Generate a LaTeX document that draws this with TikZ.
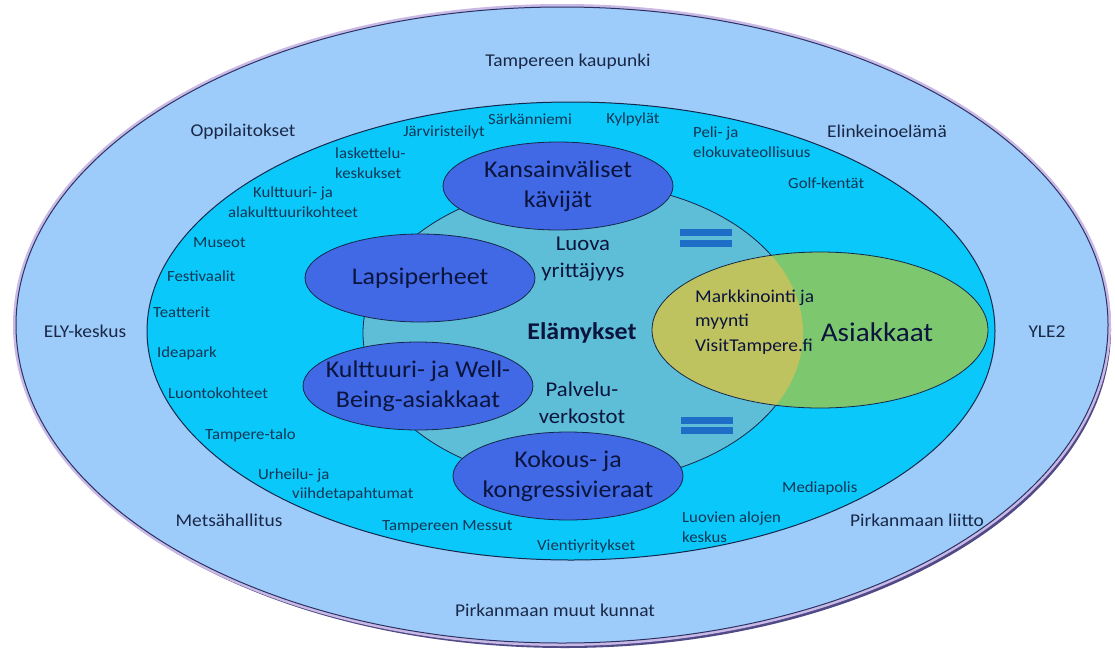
\documentclass[tikz,border=0pt]{standalone}
\usepackage{fontspec}
\setmainfont{Carlito}[FakeStretch=1.08]
\usepackage{tikz}
\definecolor{outerc}{RGB}{158, 204, 250}
\definecolor{midc}{RGB}{10, 200, 250}
\definecolor{corec}{RGB}{95, 190, 215}
\definecolor{bubblec}{RGB}{65, 105, 230}
\definecolor{greenc}{RGB}{125, 200, 110}
\definecolor{overlapc}{RGB}{190, 195, 95}
\definecolor{eqc}{RGB}{30, 110, 200}
\definecolor{edgec}{RGB}{20, 40, 75}
\definecolor{ringedge}{RGB}{45, 50, 100}
\definecolor{glowc}{RGB}{200, 185, 230}
\definecolor{shadowc}{RGB}{80, 75, 135}
\definecolor{textc}{RGB}{25, 40, 70}
\definecolor{spotc}{RGB}{15, 55, 85}
\definecolor{bubtext}{RGB}{10, 20, 60}
\usetikzlibrary{shapes.geometric}
\tikzset{
  ringlbl/.style={text=textc, font=\fontsize{18}{22}\selectfont},
  spotlbl/.style={text=spotc, font=\fontsize{15.5}{19.5}\selectfont, align=left},
  bubble/.style={ellipse, minimum width=230pt, minimum height=88pt, fill=bubblec, draw=edgec, line width=0.8pt},
  bubtxt/.style={text=bubtext, font=\fontsize{24}{30}\selectfont, align=center},
  corelbl/.style={text=bubtext, font=\fontsize{21}{27}\selectfont, align=center},
  marklbl/.style={text=bubtext, font=\fontsize{18}{24}\selectfont, align=left}
}

\begin{document}
\begin{tikzpicture}[every node/.style={inner sep=0pt}]
\useasboundingbox (0pt, 0pt) rectangle (1115pt, -648pt);
% rings
\fill [shadowc] (565pt, -330pt) ellipse [x radius=546pt, y radius=318pt];
\draw [glowc, line width=6pt] (562pt, -325pt) ellipse [x radius=546pt, y radius=318pt];
\node (outer) [ellipse, minimum width=1092pt, minimum height=636pt, fill=outerc, draw=ringedge, line width=1pt] at (562pt, -325pt) {};
\node (middle) [ellipse, minimum width=848pt, minimum height=458pt, fill=midc, draw=edgec, line width=1pt] at (571pt, -331pt) {};
\node (core) [ellipse, minimum width=440pt, minimum height=300pt, fill=corec, draw=edgec, line width=0.8pt] at (583pt, -333pt) {};
\node (asiakkaat) [ellipse, minimum width=336pt, minimum height=156pt, fill=greenc] at (820pt, -330pt) {};
\begin{scope}
\clip (core.center) ellipse [x radius=220pt, y radius=150pt];
\fill [overlapc] (asiakkaat.center) ellipse [x radius=168pt, y radius=78pt];
\end{scope}
\draw [edgec, line width=0.8pt] (asiakkaat.center) ellipse [x radius=168pt, y radius=78pt];
% customer groups
\node (kansain) [bubble] at (558pt, -186pt) {};
\node (lapsi) [bubble] at (420pt, -278pt) {};
\node (wellbeing) [bubble] at (418pt, -386pt) {};
\node (kokous) [bubble] at (568pt, -476pt) {};
\node (kansaintxt) [bubtxt] at (kansain) {Kansainväliset\\kävijät};
\node (lapsitxt) [bubtxt] at (lapsi) {Lapsiperheet};
\node (wellbeingtxt) [bubtxt] at (wellbeing) {Kulttuuri- ja Well-\\Being-asiakkaat};
\node (kokoustxt) [bubtxt] at (kokous) {Kokous- ja\\kongressivieraat};
% equals signs
\fill [eqc] (680pt, -229pt) rectangle (732pt, -236pt);
\fill [eqc] (680pt, -240pt) rectangle (732pt, -247pt);
\fill [eqc] (681pt, -417pt) rectangle (733pt, -424pt);
\fill [eqc] (681pt, -427pt) rectangle (733pt, -434pt);
% core texts
\node (luova) [corelbl] at (583pt, -259pt) {Luova\\yrittäjyys};
\node (elamykset) [corelbl, font=\bfseries\fontsize{24}{29}\selectfont] at (582pt, -333pt) {Elämykset};
\node (palvelu) [corelbl] at (582pt, -403pt) {Palvelu-\\verkostot};
\node (markkin) [marklbl, anchor=west] at (695pt, -310pt) {Markkinointi ja\\myynti};
\node (visit) [marklbl, anchor=west] at (695pt, -347pt) {VisitTampere.fi};
\node (asiakastxt) [bubtxt, font=\fontsize{27}{32}\selectfont] at (877pt, -332pt) {Asiakkaat};
% outer ring texts
\node (kaupunki) [ringlbl] at (568pt, -62pt) {Tampereen kaupunki};
\node (oppil) [ringlbl] at (243pt, -132pt) {Oppilaitokset};
\node (elinkeino) [ringlbl] at (887pt, -131pt) {Elinkeinoelämä};
\node (ely) [ringlbl] at (85pt, -331pt) {ELY-keskus};
\node (yle) [ringlbl] at (1047pt, -332pt) {YLE2};
\node (metsa) [ringlbl] at (229pt, -520pt) {Metsähallitus};
\node (liitto) [ringlbl] at (917pt, -520pt) {Pirkanmaan liitto};
\node (kunnat) [ringlbl] at (555pt, -610pt) {Pirkanmaan muut kunnat};
% attractions
\node (jarvi) [spotlbl] at (444pt, -132pt) {Järviristeilyt};
\node (sarkan) [spotlbl] at (530pt, -119pt) {Särkänniemi};
\node (kylpy) [spotlbl] at (633pt, -119pt) {Kylpylät};
\node (peli) [spotlbl, anchor=west] at (693pt, -142pt) {Peli- ja\\elokuvateollisuus};
\node (golf) [spotlbl, anchor=west] at (788pt, -183pt) {Golf-kentät};
\node (lasket) [spotlbl, anchor=west] at (335pt, -163pt) {laskettelu-\\keskukset};
\node (alakult) [spotlbl, align=center] at (293pt, -202pt) {Kulttuuri- ja\\alakulttuurikohteet};
\node (museot) [spotlbl, anchor=west] at (193pt, -243pt) {Museot};
\node (festiv) [spotlbl, anchor=west] at (167pt, -276pt) {Festivaalit};
\node (teatt) [spotlbl, anchor=west] at (153pt, -312pt) {Teatterit};
\node (idea) [spotlbl, anchor=west] at (157pt, -353pt) {Ideapark};
\node (luonto) [spotlbl, anchor=west] at (168pt, -393pt) {Luontokohteet};
\node (talo) [spotlbl, anchor=west] at (205pt, -435pt) {Tampere-talo};
\node (urheilu) [spotlbl, anchor=west] at (258pt, -485pt) {Urheilu- ja\\\hspace*{34pt}viihdetapahtumat};
\node (messut) [spotlbl, anchor=west] at (382pt, -527pt) {Tampereen Messut};
\node (vienti) [spotlbl, anchor=west] at (537pt, -546pt) {Vientiyritykset};
\node (luovien) [spotlbl, anchor=west] at (682pt, -527pt) {Luovien alojen\\keskus};
\node (mediap) [spotlbl, anchor=west] at (782pt, -488pt) {Mediapolis};
\end{tikzpicture}
\end{document}
